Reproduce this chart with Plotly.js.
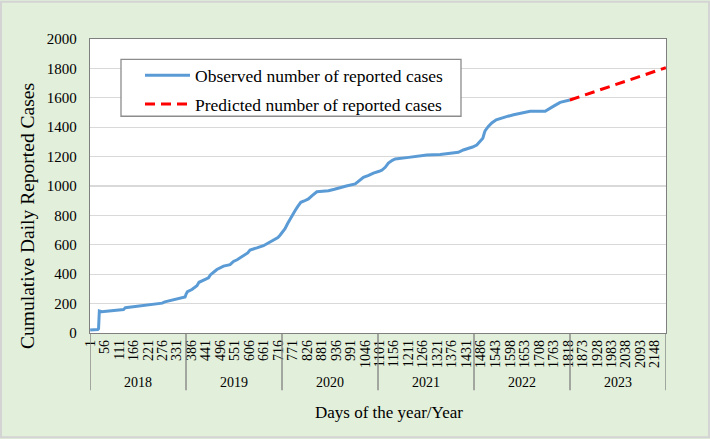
<!DOCTYPE html>
<html>
<head>
<meta charset="utf-8">
<script src="https://cdn.plot.ly/plotly-3.0.1.min.js"></script>
<style>html,body{margin:0;padding:0;background:#E2EFDA;}#chart{width:710px;height:439px;}</style>
</head>
<body>
<div id="chart"></div>
<script>
// Observed cumulative cases (day index, cumulative count)
const obsDays = [1,30,33,36,45,60,90,120,128,135,150,191,240,254,275,285,300,324,350,362,366,371,388,400,407,415,426,445,451,458,464,475,483,500,508,533,540,546,560,571,590,600,609,620,635,660,685,704,715,723,735,742,752,761,770,780,790,802,815,831,845,863,885,907,930,952,975,1009,1025,1040,1060,1078,1100,1110,1123,1135,1150,1161,1205,1240,1281,1332,1380,1401,1420,1433,1455,1471,1485,1494,1500,1503,1515,1528,1545,1566,1590,1611,1640,1674,1731,1744,1765,1788,1810,1825];
const obsCases = [20,24,30,150,145,147,150,156,160,172,175,182,192,196,203,212,218,226,235,245,265,281,296,312,322,345,355,368,375,395,402,420,432,450,455,465,478,487,498,510,533,545,565,570,579,594,618,634,650,665,690,710,745,776,805,832,860,889,898,912,935,961,965,968,978,991,1000,1014,1035,1059,1072,1088,1100,1107,1127,1156,1175,1184,1193,1203,1211,1215,1222,1229,1245,1252,1265,1279,1305,1324,1362,1376,1405,1429,1450,1463,1475,1485,1497,1508,1508,1524,1545,1569,1580,1585];
// Predicted cumulative cases
const predDays = [1825, 2190];
const predCases = [1585, 1805];
// Axis labels
const dayTickLabels = ["1","56","111","166","221","276","331","386","441","496","551","606","661","716","771","826","881","936","991","1046","1101","1156","1211","1266","1321","1376","1431","1486","1543","1598","1653","1708","1763","1818","1873","1928","1983","2038","2093","2148"];
const years = ["2018","2019","2020","2021","2022","2023"];
const yearBounds = [0.5,365.5,730.5,1095.5,1460.5,1825.5,2190.5];

const font = "Liberation Serif, Times New Roman, serif";
const L = 90, R = 44, T = 38.5, B = 105.5;
const W = 710, H = 439;
const pw = W - L - R, ph = H - T - B;
const py = (pix) => (H - B - pix) / ph; // pixel y -> paper
const px = (pix) => (pix - L) / pw;

const shapes = [];
yearBounds.forEach(b => shapes.push({type:'line', xref:'x', yref:'paper', x0:b, x1:b, y0:0, y1:py(391), line:{color:'#7f7f7f', width:1.3}}));
// legend box
shapes.push({type:'rect', xref:'paper', yref:'paper', x0:px(121), x1:px(461), y0:py(116), y1:py(59), fillcolor:'#ffffff', line:{color:'#8c8c8c', width:1.3}, layer:'above'});
// outer border
shapes.push({type:'rect', xref:'paper', yref:'paper', x0:px(1), x1:px(709), y0:py(438), y1:py(1), line:{color:'#d4d4d4', width:2}});

const annotations = [];
years.forEach((y,i) => annotations.push({xref:'x', yref:'paper', x:(yearBounds[i]+yearBounds[i+1])/2, y:py(383), text:y, showarrow:false, font:{family:font, size:14, color:'#000'}, xanchor:'center', yanchor:'middle'}));
annotations.push({xref:'paper', yref:'paper', x:px(389), y:py(413), text:'Days of the year/Year', showarrow:false, font:{family:font, size:17, color:'#000'}, xanchor:'center', yanchor:'middle'});
annotations.push({xref:'paper', yref:'paper', x:px(28), y:py(216), text:'Cumulative Daily Reported Cases', textangle:-90, showarrow:false, font:{family:font, size:19.5, color:'#000'}, xanchor:'center', yanchor:'middle'});

const data = [
  {x: obsDays, y: obsCases, mode:'lines', name:'Observed number of reported cases', legendgroup:'a', line:{color:'#5B9BD5', width:3}},
  {x: predDays, y: predCases, mode:'lines', name:'Predicted number of reported cases', legendgroup:'b', line:{color:'#FF0000', width:3, dash:'10px,6px'}}
];

const layout = {
  width: W, height: H,
  margin: {l:L, r:R, t:T, b:B, pad:0},
  paper_bgcolor:'#E2EFDA', plot_bgcolor:'#ffffff',
  showlegend: true,
  legend: {x:px(140), y:py(57), xanchor:'left', yanchor:'top', bgcolor:'rgba(0,0,0,0)', borderwidth:0, font:{family:font, size:17.5, color:'#000'}, itemwidth:45, tracegroupgap:3},
  xaxis: {range:[0.5,2190.5], tickmode:'array', tickvals: dayTickLabels.map(Number), ticktext: dayTickLabels, tickangle:-90, tickfont:{family:font, size:14, color:'#000'}, showgrid:false, zeroline:false, showline:true, linecolor:'#7f7f7f', linewidth:1.3, mirror:true, ticks:''},
  yaxis: {range:[0,2000], dtick:200, tick0:0, tickfont:{family:font, size:15, color:'#000'}, showgrid:true, gridcolor:'#d9d9d9', gridwidth:1.3, zeroline:false, showline:true, linecolor:'#7f7f7f', linewidth:1.3, mirror:true, ticks:'', ticklabelstandoff:9},
  shapes: shapes,
  annotations: annotations
};

Plotly.newPlot('chart', data, layout, {displayModeBar:false, staticPlot:true});
</script>
</body>
</html>
